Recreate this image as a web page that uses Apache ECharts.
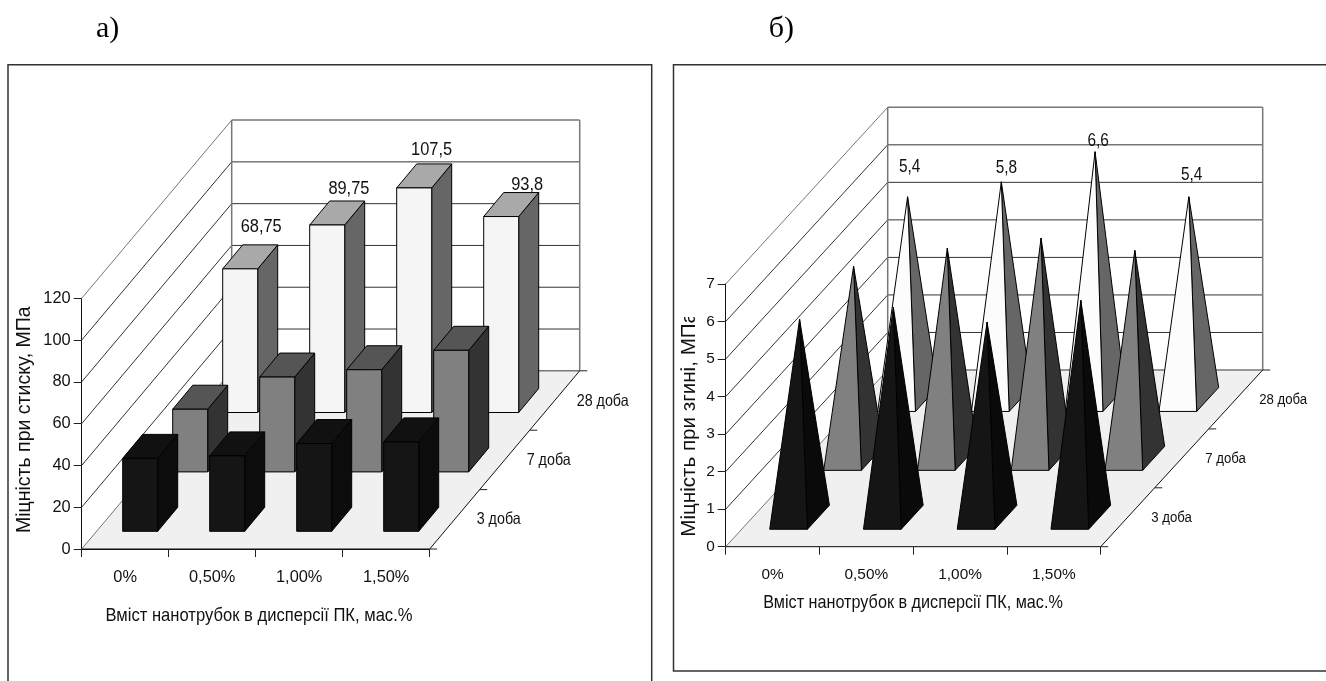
<!DOCTYPE html>
<html><head><meta charset="utf-8">
<style>html,body{margin:0;padding:0;background:#fff}#c{width:1326px;height:681px}</style>
<script src="https://cdn.jsdelivr.net/npm/echarts@6/dist/echarts.min.js"></script>
</head><body><div id="c"></div>
<script>
// ---- data ----
const categories = ['0%', '0,50%', '1,00%', '1,50%'];
const depthLabels = ['3 доба', '7 доба', '28 доба'];
const compress3 = [34.9, 36.1, 42, 42.8];
const compress7 = [30, 45.4, 48.9, 58.2];
const compress28 = [68.75, 89.75, 107.5, 93.8];
const bend3 = [5.28, 5.6, 5.2, 5.78];
const bend7 = [5.12, 5.6, 5.87, 5.54];
const bend28 = [5.4, 5.8, 6.6, 5.4];
const ticksA = [0, 20, 40, 60, 80, 100, 120];
const ticksB = [0, 1, 2, 3, 4, 5, 6, 7];
const titleA = 'Міцність при стиску, МПа';
const titleB = 'Міцність при згині, МПа';
const titleX = 'Вміст нанотрубок в дисперсії ПК, мас.%';

// ---- oblique projection & styles ----
const FF = '"Liberation Sans", Arial, sans-serif';
const viewA = { depthX: 50, depthY: -59.4, w: 35, bdx: 20, bdy: -24, tick: 16.4, depthFont: 14.3, lab: 16.4, depthGap: 22,
  nudge: [[21, -42], [21.7, -35.7], [17.4, -38.4], [26, -32]] };
const viewB = { depthX: 54, depthY: -58.9, w: 37.7, bdx: 22, bdy: -24, tick: 15.4, depthFont: 13.2, lab: 15.4, depthGap: 23.5,
  nudge: [[2, -29.5], [5, -13.5], [3, -11], [2.75, -21.8]] };
const paletteBox = [
  { front: '#151515', top: '#111111', side: '#0c0c0c', edge: '#000' },
  { front: '#808080', top: '#555555', side: '#333333', edge: '#000' },
  { front: '#f5f5f5', top: '#a9a9a9', side: '#666666', edge: '#000' }
];
const palettePyr = [
  { front: '#151515', side: '#0a0a0a', edge: '#000' },
  { front: '#808080', side: '#333333', edge: '#000' },
  { front: '#fcfcfc', side: '#666666', edge: '#000' }
];
const fmt = v => String(v).replace('.', ',');
const STRETCH = 1.14;

function bounds(api, view) {
  const band = api.size([1, 0])[0];
  const p0 = api.coord([0, 0]);
  return { x0: p0[0] - band / 2, y0: p0[1], band, x1: p0[0] - band / 2 + band * categories.length };
}
function line(a, b, stroke, lw) {
  return { type: 'line', shape: { x1: a[0], y1: a[1], x2: b[0], y2: b[1] }, style: { stroke, lineWidth: lw === undefined ? 1 : lw } };
}
function wallsSeries(grid, view, ticks) {
  const D = depthLabels.length;
  return [{
    type: 'custom', xAxisIndex: grid, yAxisIndex: grid, z: 1, silent: true, clip: false,
    data: [[0, 0]], encode: { x: 0, y: 1 },
    renderItem(params, api) {
      const b = bounds(api, view), dx = D * view.depthX, dy = D * view.depthY;
      const kids = [{ type: 'polygon', shape: { points: [[b.x0, b.y0], [b.x1, b.y0], [b.x1 + dx, b.y0 + dy], [b.x0 + dx, b.y0 + dy]] },
        style: { fill: '#f0f0f0' } }];
      ticks.forEach((t, i) => {
        const y = api.coord([0, t])[1];
        const c = (i === 0 || i === ticks.length - 1) ? '#777' : '#333';
        kids.push(line([b.x0, y], [b.x0 + dx, y + dy], c));
        kids.push(line([b.x0 + dx, y + dy], [b.x1 + dx, y + dy], c, (i === 0 || i === ticks.length - 1) ? 1.5 : 1));
      });
      const yt = api.coord([0, ticks[ticks.length - 1]])[1];
      kids.push(line([b.x0 + dx, yt + dy], [b.x0 + dx, b.y0 + dy], '#777', 1.5));
      kids.push(line([b.x1 + dx, yt + dy], [b.x1 + dx, b.y0 + dy], '#777', 1.5));
      kids.push(line([b.x0, b.y0], [b.x1, b.y0], '#111'));
      kids.push(line([b.x1, b.y0], [b.x1 + dx, b.y0 + dy], '#111'));
      for (let i = 0; i <= D; i++) {
        const px = b.x1 + i * view.depthX, py = b.y0 + i * view.depthY;
        kids.push(line([px, py], [px + 7.5, py], '#222'));
      }
      depthLabels.forEach((txt, i) => {
        kids.push({ type: 'text', x: b.x1 + (i + .5) * view.depthX + view.depthGap, y: b.y0 + (i + .5) * view.depthY + .7, scaleY: STRETCH,
          style: { text: txt, fill: '#111', font: view.depthFont + 'px ' + FF, align: 'left', verticalAlign: 'middle' } });
      });
      return { type: 'group', children: kids };
    }
  }];
}
function boxSeries(grid, view, depth, values, labelled) {
  const col = paletteBox[depth];
  return {
    type: 'custom', xAxisIndex: grid, yAxisIndex: grid, z: 5 - depth, silent: true, clip: false,
    data: values.map((v, i) => [i, v]), encode: { x: 0, y: 1 },
    renderItem(params, api) {
      const i = params.dataIndex, v = api.value(1);
      const c = api.coord([i, 0]), t = api.coord([i, v]);
      const cx = c[0] + (depth + .5) * view.depthX, cy = c[1] + (depth + .5) * view.depthY;
      const h = c[1] - t[1];
      const L = cx - view.w / 2 - view.bdx / 2, R = L + view.w, B = cy - view.bdy / 2, T = B - h;
      const dx = view.bdx, dy = view.bdy;
      const st = f => ({ fill: f, stroke: col.edge, lineWidth: 1 });
      const kids = [
        { type: 'polygon', shape: { points: [[R, B], [R + dx, B + dy], [R + dx, T + dy], [R, T]] }, style: st(col.side) },
        { type: 'polygon', shape: { points: [[L, T], [R, T], [R + dx, T + dy], [L + dx, T + dy]] }, style: st(col.top) },
        { type: 'polygon', shape: { points: [[L, B], [R, B], [R, T], [L, T]] }, style: st(col.front) }
      ];
      if (labelled) kids.push({ type: 'text', x: (L + R) / 2 + view.nudge[i][0], y: T + view.nudge[i][1], scaleY: STRETCH,
        style: { text: fmt(v), fill: '#111', font: view.lab + 'px ' + FF, align: 'center', verticalAlign: 'middle' } });
      return { type: 'group', children: kids };
    }
  };
}
function pyramidSeries(grid, view, depth, values, labelled) {
  const col = palettePyr[depth];
  return {
    type: 'custom', xAxisIndex: grid, yAxisIndex: grid, z: 5 - depth, silent: true, clip: false,
    data: values.map((v, i) => [i, v]), encode: { x: 0, y: 1 },
    renderItem(params, api) {
      const i = params.dataIndex, v = api.value(1);
      const c = api.coord([i, 0]), t = api.coord([i, v]);
      const cx = c[0] + (depth + .5) * view.depthX, cy = c[1] + (depth + .5) * view.depthY;
      const apex = [cx, cy - (c[1] - t[1])];
      const L = cx - view.w / 2 - view.bdx / 2, R = L + view.w, B = cy - view.bdy / 2;
      const st = f => ({ fill: f, stroke: col.edge, lineWidth: 1, lineJoin: 'bevel' });
      const kids = [
        { type: 'polygon', shape: { points: [[R, B], [R + view.bdx, B + view.bdy], apex] }, style: st(col.side) },
        { type: 'polygon', shape: { points: [[L, B], [R, B], apex] }, style: st(col.front) }
      ];
      if (labelled) kids.push({ type: 'text', x: apex[0] + view.nudge[i][0], y: apex[1] + view.nudge[i][1], scaleY: STRETCH,
        style: { text: fmt(v), fill: '#111', font: view.lab + 'px ' + FF, align: 'center', verticalAlign: 'middle' } });
      return { type: 'group', children: kids };
    }
  };
}
function xAxisFor(grid, view, margin) {
  return { type: 'category', gridIndex: grid, data: categories, boundaryGap: true,
    axisLine: { show: true, onZero: false, lineStyle: { color: '#111', width: 1 } },
    axisTick: { show: true, length: 8, alignWithLabel: false, lineStyle: { color: '#222' } },
    axisLabel: { show: true, interval: 0, margin, color: '#111', fontFamily: FF, fontSize: view.tick, hideOverlap: false },
    splitLine: { show: false } };
}
function yAxisFor(grid, view, ticks) {
  return { type: 'value', gridIndex: grid, min: ticks[0], max: ticks[ticks.length - 1], interval: ticks[1] - ticks[0],
    axisLine: { show: true, onZero: false, lineStyle: { color: '#111', width: 1 } },
    axisTick: { show: true, length: 8, lineStyle: { color: '#222' } },
    axisLabel: { show: true, margin: 11, color: '#111', fontFamily: FF, fontSize: view.tick },
    splitLine: { show: false } };
}
function gText(text, x, y, size, extra) {
  return Object.assign({ type: 'text', x, y, z: 50, silent: true,
    style: { text, fill: '#111', font: size + 'px ' + FF, align: 'center', verticalAlign: 'middle' } }, extra || {});
}
const frameStyle = { stroke: '#333', lineWidth: 1.5, fill: 'none' };

const option = {
  animation: false,
  backgroundColor: '#fff',
  grid: [
    { left: 81.7, top: 298.3, width: 348, height: 250.7, containLabel: false },
    { left: 725.7, top: 284, width: 375, height: 262.7, containLabel: false }
  ],
  xAxis: [xAxisFor(0, viewA, 20), xAxisFor(1, viewB, 21)],
  yAxis: [yAxisFor(0, viewA, ticksA), yAxisFor(1, viewB, ticksB)],
  series: [
    ...wallsSeries(0, viewA, ticksA),
    boxSeries(0, viewA, 2, compress28, true),
    boxSeries(0, viewA, 1, compress7, false),
    boxSeries(0, viewA, 0, compress3, false),
    ...wallsSeries(1, viewB, ticksB),
    pyramidSeries(1, viewB, 2, bend28, true),
    pyramidSeries(1, viewB, 1, bend7, false),
    pyramidSeries(1, viewB, 0, bend3, false)
  ],
  graphic: [
    { type: 'polyline', z: 40, silent: true, shape: { points: [[8, 681], [8, 64.7], [651.7, 64.7], [651.7, 681]] }, style: frameStyle },
    { type: 'polyline', z: 40, silent: true, shape: { points: [[1326, 64.7], [673.5, 64.7], [673.5, 671], [1326, 671]] }, style: frameStyle },
    { type: 'text', x: 96, y: 29, z: 50, silent: true, style: { text: 'а)', fill: '#000', font: '30px "Liberation Serif", serif', align: 'left', verticalAlign: 'middle' } },
    { type: 'text', x: 794, y: 29, z: 50, silent: true, style: { text: 'б)', fill: '#000', font: '30px "Liberation Serif", serif', align: 'right', verticalAlign: 'middle' } },
    gText(titleX, 259, 615.7, 16.6, { scaleY: STRETCH }),
    gText(titleX, 913, 603.3, 16.2, { scaleY: STRETCH }),
    gText(titleA, 25, 533, 19.5, { rotation: Math.PI / 2, style: { text: titleA, fill: '#111', font: '19.5px ' + FF, align: 'left', verticalAlign: 'middle' } }),
    gText(titleB, 689, 536.7, 20.6, { rotation: Math.PI / 2, style: { text: titleB, fill: '#111', font: '20.6px ' + FF, align: 'left', verticalAlign: 'middle' } }),
    { type: 'rect', z: 60, silent: true, shape: { x: 678, y: 290, width: 20, height: 27 }, style: { fill: '#fff' } }
  ]
};
const chart = echarts.init(document.getElementById('c'), null, { renderer: 'canvas', width: 1326, height: 681 });
chart.setOption(option);
</script></body></html>
